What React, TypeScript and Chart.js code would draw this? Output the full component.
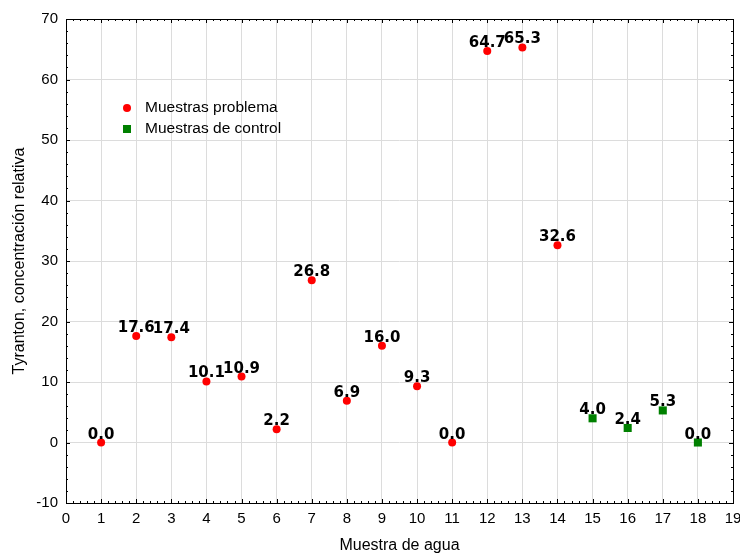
import React, { useEffect, useRef } from "react";
import { Chart, registerables } from "chart.js";

Chart.register(...registerables);

const problemX = [1, 2, 3, 4, 5, 6, 7, 8, 9, 10, 11, 12, 13, 14];
const problemY = [0.0, 17.6, 17.4, 10.1, 10.9, 2.2, 26.8, 6.9, 16.0, 9.3, 0.0, 64.7, 65.3, 32.6];
const controlX = [15, 16, 17, 18];
const controlY = [4.0, 2.4, 5.3, 0.0];
const legendLabels = ["Muestras problema", "Muestras de control"];
const xTitle = "Muestra de agua";
const yTitle = "Tyranton, concentración relativa";

const FONT = "Arial, 'Liberation Sans', sans-serif";
const LABEL_FONT = "'DejaVu Sans', Verdana, sans-serif";

const decorPlugin = {
  id: "decor",
  afterDatasetsDraw(chart: any) {
    const ctx = chart.ctx;
    const { left, right, top, bottom } = chart.chartArea;
    const xs = chart.scales.x;
    const ys = chart.scales.y;
    ctx.save();
    ctx.strokeStyle = "#000";
    ctx.lineWidth = 1;
    ctx.strokeRect(left + 0.5, top + 0.5, right - left, bottom - top);
    ctx.beginPath();
    for (let i = 0; i <= 19 * 5; i++) {
      const v = i / 5;
      const px = Math.round(xs.getPixelForValue(v)) + 0.5;
      const len = i % 5 === 0 ? 4 : 2;
      ctx.moveTo(px, bottom);
      ctx.lineTo(px, bottom - len);
      ctx.moveTo(px, top);
      ctx.lineTo(px, top + len);
    }
    for (let v = -10; v <= 70; v += 2) {
      const py = Math.round(ys.getPixelForValue(v)) + 0.5;
      const len = v % 10 === 0 ? 4 : 2;
      ctx.moveTo(left, py);
      ctx.lineTo(left + len, py);
      ctx.moveTo(right, py);
      ctx.lineTo(right - len, py);
    }
    ctx.stroke();
    // data labels
    ctx.fillStyle = "#000";
    ctx.font = `bold 15px ${LABEL_FONT}`;
    ctx.textAlign = "center";
    ctx.textBaseline = "alphabetic";
    chart.data.datasets.forEach((ds: any) => {
      ds.data.forEach((p: any) => {
        const px = xs.getPixelForValue(p.x);
        const py = ys.getPixelForValue(p.y);
        ctx.fillText(p.y.toFixed(1), px, py - 4);
      });
    });
    // legend
    ctx.font = `15.5px ${FONT}`;
    ctx.textAlign = "left";
    ctx.textBaseline = "middle";
    ctx.fillStyle = "#ff0000";
    ctx.beginPath();
    ctx.arc(127, 108, 4, 0, Math.PI * 2);
    ctx.fill();
    ctx.fillStyle = "#008000";
    ctx.fillRect(123, 125, 8, 8);
    ctx.fillStyle = "#000";
    ctx.fillText(legendLabels[0], 145, 108);
    ctx.fillText(legendLabels[1], 145, 129);
    // titles
    ctx.font = `16px ${FONT}`;
    ctx.textAlign = "center";
    ctx.fillText(xTitle, (left + right) / 2, 546);
    ctx.translate(20, (top + bottom) / 2);
    ctx.rotate(-Math.PI / 2);
    ctx.fillText(yTitle, 0, 0);
    ctx.restore();
  },
};

export default function App() {
  const ref = useRef<HTMLCanvasElement | null>(null);
  useEffect(() => {
    if (!ref.current) return;
    const chart = new Chart(ref.current, {
      type: "scatter",
      data: {
        datasets: [
          {
            label: legendLabels[0],
            data: problemX.map((x, i) => ({ x, y: problemY[i] })),
            backgroundColor: "#ff0000",
            borderColor: "#ff0000",
            pointStyle: "circle",
            pointRadius: 4,
            borderWidth: 0,
          },
          {
            label: legendLabels[1],
            data: controlX.map((x, i) => ({ x, y: controlY[i] })),
            backgroundColor: "#008000",
            borderColor: "#008000",
            pointStyle: "rect",
            pointRadius: 5.7,
            borderWidth: 0,
          },
        ],
      },
      options: {
        responsive: false,
        animation: false,
        layout: { padding: { top: 19, right: 7, left: 0, bottom: 0 } },
        plugins: { legend: { display: false }, tooltip: { enabled: false } },
        scales: {
          x: {
            type: "linear",
            min: 0,
            max: 19,
            afterFit: (s: any) => { s.height = 51; s.paddingLeft = 0; s.paddingRight = 0; },
            ticks: { stepSize: 1, color: "#000", font: { family: FONT, size: 15 }, padding: 7, maxRotation: 0, autoSkip: false },
            grid: { color: "#dcdcdc", drawTicks: false },
            border: { display: false },
          },
          y: {
            min: -10,
            max: 70,
            afterFit: (s: any) => { s.width = 66; s.paddingTop = 0; s.paddingBottom = 0; },
            ticks: { stepSize: 10, color: "#000", font: { family: FONT, size: 15 }, padding: 8 },
            grid: { color: "#dcdcdc", drawTicks: false },
            border: { display: false },
          },
        },
      },
      plugins: [decorPlugin],
    } as any);
    return () => chart.destroy();
  }, []);
  return (
    <div style={{ position: "fixed", left: 0, top: 0, width: 740, height: 554, background: "#fff" }}>
      <canvas ref={ref} width={740} height={554} />
    </div>
  );
}
